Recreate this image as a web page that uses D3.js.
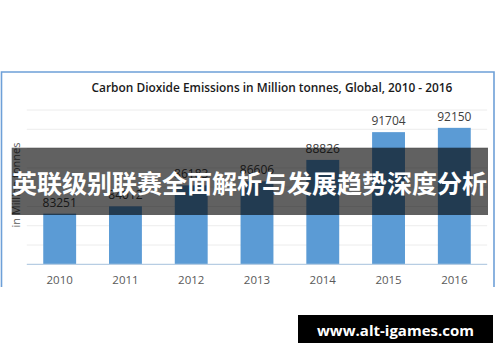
<!DOCTYPE html>
<html>
<head>
<meta charset="utf-8">
<script src="https://cdn.jsdelivr.net/npm/d3@7"></script>
<style>
  html, body { margin: 0; padding: 0; background: #fff; }
  svg { display: block; }
</style>
</head>
<body>
<div id="chart"></div>
<script>
// chart data
var years = ["2010", "2011", "2012", "2013", "2014", "2015", "2016"];
var emissions = [83251, 84012, 86183, 86606, 88826, 91704, 92150];
var yTicks = [78000, 80000, 82000, 84000, 86000, 88000, 90000, 92000, 94000];
var chartTitle = "Carbon Dioxide Emissions in Million tonnes, Global, 2010 - 2016";
var yLabel = "in Million tonnes";
var bannerText = "英联级别联赛全面解析与发展趋势深度分析";
var siteText = "www.alt-igames.com";

var W = 500, H = 362;
var svg = d3.select("#chart").append("svg").attr("width", W).attr("height", H);

// outer frame of the screenshot chart (bottom is cut off)
svg.append("path")
  .attr("d", "M1.5,287 L1.5,72 L494,72 L494,287")
  .attr("fill", "none").attr("stroke", "#6ea0d8").attr("stroke-width", 1.6);

var xScale = d3.scaleBand().domain(years).range([26.8, 487.2]).paddingInner(0.5).paddingOuter(0.25);
var yScale = d3.scaleLinear().domain([78000, 94000]).range([264.3, 110]);

svg.append("text").attr("x", 272).attr("y", 92)
  .attr("text-anchor", "middle")
  .style("font-family", "'Open Sans', sans-serif").style("font-weight", 600)
  .style("font-size", "11.9px").attr("fill", "#1a1a1a")
  .text(chartTitle);

// gridlines
svg.append("g").selectAll("line").data(yTicks.slice(1)).enter().append("line")
  .attr("x1", 26.8).attr("x2", 487.2)
  .attr("y1", function(d) { return yScale(d); })
  .attr("y2", function(d) { return yScale(d); })
  .attr("stroke", "#ececec").attr("stroke-width", 1);

// bars
svg.append("g").selectAll("rect").data(emissions).enter().append("rect")
  .attr("x", function(d, i) { return xScale(years[i]); })
  .attr("width", xScale.bandwidth())
  .attr("y", function(d) { return yScale(d); })
  .attr("height", function(d) { return yScale(78000) - yScale(d); })
  .attr("fill", "#5b9bd5");

// baseline
svg.append("line").attr("x1", 26.8).attr("x2", 487.2)
  .attr("y1", yScale(78000)).attr("y2", yScale(78000))
  .attr("stroke", "#b7cde3").attr("stroke-width", 1.2);

// value labels
svg.append("g").selectAll("text").data(emissions).enter().append("text")
  .attr("x", function(d, i) { return xScale(years[i]) + xScale.bandwidth() / 2; })
  .attr("y", function(d) { return yScale(d) - 7; })
  .attr("text-anchor", "middle")
  .style("font-family", "'Open Sans', sans-serif").style("font-size", "12px")
  .attr("fill", "#404040")
  .text(function(d) { return d; });

// x axis labels
var xAxis = d3.axisBottom(xScale).tickSize(0).tickPadding(0);
var gX = svg.append("g").attr("transform", "translate(0,276)").call(xAxis);
gX.select(".domain").remove();
gX.selectAll("text")
  .style("font-family", "'Open Sans', sans-serif").style("font-size", "11.5px")
  .attr("fill", "#595959");

// y axis title
svg.append("text")
  .attr("transform", "translate(20,185) rotate(-90)")
  .attr("text-anchor", "middle")
  .style("font-family", "'Open Sans', sans-serif").style("font-size", "11px")
  .attr("fill", "#595959")
  .text(yLabel);

// dark banner over the chart
svg.append("rect").attr("x", 11.7).attr("y", 147.7).attr("width", 476.3).attr("height", 67.3)
  .attr("fill", "#000").attr("fill-opacity", 0.62);
svg.append("text").attr("x", 249.5).attr("y", 182)
  .attr("text-anchor", "middle").attr("dominant-baseline", "central")
  .style("font-family", "'Noto Sans CJK SC', sans-serif").style("font-weight", 700)
  .style("font-size", "25px").attr("fill", "#fff")
  .text(bannerText);

// site badge
svg.append("rect").attr("x", 298).attr("y", 315).attr("width", 195).attr("height", 28)
  .attr("fill", "#000");
svg.append("text").attr("x", 395.5).attr("y", 329.5)
  .attr("text-anchor", "middle").attr("dominant-baseline", "central")
  .style("font-family", "'Open Sans', sans-serif").style("font-weight", 700)
  .style("font-size", "15px").attr("fill", "#fff")
  .text(siteText);
</script>
</body>
</html>
